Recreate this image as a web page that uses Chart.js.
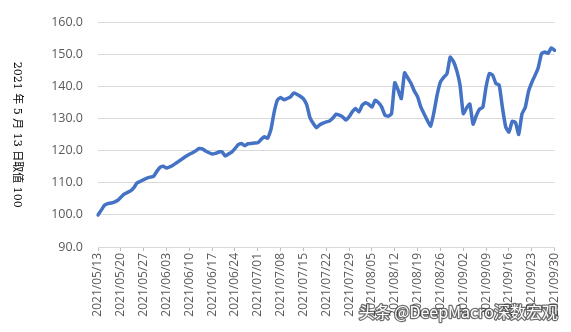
<!DOCTYPE html>
<html>
<head>
<meta charset="utf-8">
<script src="https://cdn.jsdelivr.net/npm/chart.js@4.4.0/dist/chart.umd.min.js"></script>
<style>
  html, body { margin: 0; padding: 0; background: #fff; }
  #wrap { width: 571px; height: 332px; position: relative; }
</style>
</head>
<body>
<div id="wrap"><canvas id="c" width="571" height="332"></canvas></div>
<script>
'use strict';

// daily dates from 2021/05/13 to 2021/09/30
var startDate = '2021-05-13';
var dayCount = 141;

// index values, 2021/05/13 = 100
var indexValues = [
  100, 101.5, 103, 103.5, 103.7, 104, 104.5, 105.5, 106.5, 107,
  107.5, 108.5, 110, 110.5, 111, 111.5, 111.8, 112, 113.5, 114.8,
  115.2, 114.6, 115, 115.5, 116.2, 116.9, 117.6, 118.3, 118.9, 119.4,
  120, 120.7, 120.6, 119.9, 119.4, 119, 119.2, 119.6, 119.7, 118.4,
  119, 119.6, 120.7, 121.9, 122.3, 121.6, 122.2, 122.3, 122.4, 122.5,
  123.5, 124.4, 123.9, 126.5, 132, 135.8, 136.6, 135.9, 136.3, 136.8,
  138, 137.6, 137, 136.2, 134.3, 130.3, 128.5, 127.2, 128.1, 128.6,
  129, 129.3, 130.2, 131.4, 131.1, 130.6, 129.6, 130.6, 132.2, 133.2,
  132.1, 134.2, 135, 134.5, 133.6, 135.8, 135, 133.6, 131.1, 130.8,
  131.6, 141.2, 139, 136.3, 144.3, 142.7, 141, 138.6, 136.8, 133.6,
  131.5, 129.4, 127.7, 132, 137.5, 141.5, 142.9, 144, 149.2, 147.8,
  145, 140.5, 131.6, 133.3, 134.6, 128.3, 131, 133, 133.6, 140,
  144.1, 143.6, 141, 140.5, 133.5, 127.5, 125.8, 129.2, 128.8, 125.1,
  131.5, 133.5, 138.5, 141.3, 143.5, 146, 150.3, 150.8, 150.4, 152.1,
  151.3
];

var yTicks = [90, 100, 110, 120, 130, 140, 150, 160];
var yTitle = '2021 年 5 月 13 日取值 100';
var watermark = '头条 @DeepMacro深数宏观';

var pad2 = function(n) { return (n < 10 ? '0' : '') + n; };

var dateLabels = [];
(function() {
  var d = new Date(startDate + 'T00:00:00Z');
  for (var i = 0; i < dayCount; i++) {
    dateLabels.push(d.getUTCFullYear() + '/' + pad2(d.getUTCMonth() + 1) + '/' + pad2(d.getUTCDate()));
    d.setUTCDate(d.getUTCDate() + 1);
  }
})();

var extraText = {
  id: 'extraText',
  afterDraw: function(chart) {
    var ctx = chart.ctx;
    var area = chart.chartArea;
    ctx.save();
    // vertical axis note, reads top to bottom
    ctx.translate(17, (area.top + area.bottom) / 2);
    ctx.rotate(Math.PI / 2);
    ctx.font = '11px "DejaVu Serif", "Noto Sans CJK SC", serif';
    ctx.fillStyle = '#000';
    ctx.textAlign = 'center';
    ctx.textBaseline = 'middle';
    ctx.fillText(yTitle, 0, 0);
    ctx.restore();

    ctx.save();
    ctx.font = '16px "Noto Sans CJK SC", sans-serif';
    ctx.textAlign = 'right';
    ctx.textBaseline = 'middle';
    ctx.lineWidth = 2.5;
    ctx.strokeStyle = 'rgba(60,60,60,0.75)';
    ctx.lineJoin = 'round';
    ctx.strokeText(watermark, 558, 312);
    ctx.fillStyle = '#fff';
    ctx.fillText(watermark, 558, 312);
    ctx.restore();
  }
};

new Chart(document.getElementById('c'), {
  type: 'line',
  data: {
    labels: dateLabels,
    datasets: [{
      data: indexValues,
      borderColor: '#4472C4',
      borderWidth: 3.5,
      pointRadius: 0,
      tension: 0.15,
      borderJoinStyle: 'round',
      borderCapStyle: 'round'
    }]
  },
  options: {
    responsive: false,
    animation: false,
    layout: { padding: { left: 0, right: 14, top: 12, bottom: 0 } },
    plugins: { legend: { display: false }, tooltip: { enabled: false } },
    scales: {
      x: {
        type: 'category',
        afterFit: function(s) { s.height = 85; },
        grid: {
          drawOnChartArea: false,
          tickLength: 4,
          color: function(c) { return c.index % 7 === 0 ? '#bfbfbf' : 'rgba(0,0,0,0)'; }
        },
        border: { color: '#d9d9d9', width: 1 },
        ticks: {
          autoSkip: false,
          minRotation: 90,
          maxRotation: 90,
          padding: 2,
          color: '#595959',
          font: { family: '"Open Sans", sans-serif', size: 12 },
          callback: function(v, i) { return i % 7 === 0 ? dateLabels[i] : ''; }
        }
      },
      y: {
        min: 90,
        max: 160,
        afterFit: function(s) { s.width = 98; },
        afterBuildTicks: function(s) { s.ticks = yTicks.map(function(v) { return { value: v }; }); },
        grid: { color: '#d9d9d9', lineWidth: 1, drawTicks: false },
        border: { display: false },
        ticks: {
          padding: 15,
          color: '#595959',
          font: { family: '"Open Sans", sans-serif', size: 12.5 },
          callback: function(v) { return v.toFixed(1); }
        }
      }
    }
  },
  plugins: [extraText]
});
</script>
</body>
</html>
